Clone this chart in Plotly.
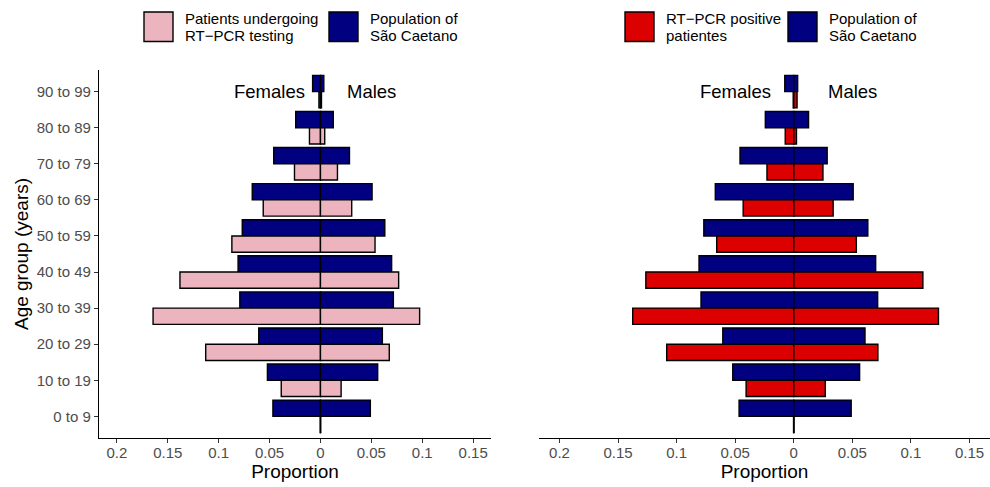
import plotly.graph_objects as go

# Age groups, bottom to top
age_groups = ["0 to 9", "10 to 19", "20 to 29", "30 to 39", "40 to 49",
              "50 to 59", "60 to 69", "70 to 79", "80 to 89", "90 to 99"]

# Population of São Caetano (proportion by sex)
pop_female = [0.0467, 0.0521, 0.0606, 0.0792, 0.0809, 0.0768, 0.0670, 0.0459, 0.0243, 0.0077]
pop_male = [0.0490, 0.0562, 0.0608, 0.0716, 0.0699, 0.0632, 0.0507, 0.0285, 0.0126, 0.0033]

# Patients undergoing RT-PCR testing
tested_female = [0.0002, 0.0385, 0.1127, 0.1644, 0.1380, 0.0870, 0.0562, 0.0255, 0.0108, 0.0015]
tested_male = [0.0002, 0.0203, 0.0676, 0.0974, 0.0768, 0.0536, 0.0307, 0.0167, 0.0042, 0.0010]

# RT-PCR positive patients
positive_female = [0.0002, 0.0407, 0.1085, 0.1375, 0.1263, 0.0658, 0.0432, 0.0229, 0.0073, 0.0005]
positive_male = [0.0002, 0.0269, 0.0718, 0.1235, 0.1102, 0.0534, 0.0336, 0.0249, 0.0023, 0.0028]

tick_vals = [-0.2, -0.15, -0.1, -0.05, 0, 0.05, 0.1, 0.15]
tick_text = ["0.2", "0.15", "0.1", "0.05", "0", "0.05", "0.1", "0.15"]

NAVY = "#000080"
PINK = "#EBB4BF"
RED = "#DC0000"
FONT = "Liberation Sans"
W, H = 990, 487
OUTLINE = 1.4

fig = go.Figure()


def add_panel(xa, ya, f_vals, m_vals, color):
    suffix_x = "x" if xa == 1 else f"x{xa}"
    suffix_y = "y" if ya == 1 else f"y{ya}"
    bars = [
        (pop_female, NAVY, 0.0, True),
        (pop_male, NAVY, 0.0, False),
        (f_vals, color, -0.45, True),
        (m_vals, color, -0.45, False),
    ]
    for vals, col, off, female in bars:
        xs = [-v for v in vals] if female else list(vals)
        fig.add_trace(go.Bar(
            x=xs, y=age_groups, orientation="h",
            xaxis=suffix_x, yaxis=suffix_y,
            width=0.45, offset=off,
            marker=dict(color=col, line=dict(color="black", width=OUTLINE)),
            showlegend=False,
        ))


add_panel(1, 1, tested_female, tested_male, PINK)
add_panel(2, 2, positive_female, positive_male, RED)

x_rng = [-0.2175, 0.1675]
y_dom = [1 - 438 / H, 1 - 70 / H]

common_x = dict(
    range=x_rng, tickvals=tick_vals, ticktext=tick_text,
    showline=True, linecolor="black", linewidth=1.2,
    ticks="outside", ticklen=4, tickcolor="#333333", tickwidth=1,
    ticklabelstandoff=-3,
    tickfont=dict(family=FONT, size=15, color="#4D4D4D"),
    showgrid=False, zeroline=False, automargin=False,
    title=dict(text="Proportion", font=dict(family=FONT, size=19, color="black"), standoff=4),
)

fig.update_layout(
    width=W, height=H,
    margin=dict(l=0, r=0, t=0, b=0),
    paper_bgcolor="white", plot_bgcolor="white",
    barmode="overlay",
    font=dict(family=FONT, color="black"),
    xaxis=dict(domain=[99 / W, 491 / W], anchor="y", **common_x),
    xaxis2=dict(domain=[539 / W, 1.0], anchor="y2", **common_x),
    yaxis=dict(
        domain=y_dom, anchor="x", type="category",
        categoryorder="array", categoryarray=age_groups,
        range=[-0.6, 9.6],
        showline=True, linecolor="black", linewidth=1.2,
        ticks="outside", ticklen=4, tickcolor="#333333", tickwidth=1,
        tickfont=dict(family=FONT, size=15, color="#4D4D4D"),
        showgrid=False, zeroline=False, automargin=False,
        title=dict(text="Age group (years)", font=dict(family=FONT, size=19, color="black"), standoff=3),
    ),
    yaxis2=dict(
        domain=y_dom, anchor="x2", type="category",
        categoryorder="array", categoryarray=age_groups,
        range=[-0.6, 9.6],
        showline=False, ticks="", showticklabels=False,
        showgrid=False, zeroline=False, automargin=False,
    ),
)

# Females / Males labels in each panel
for xr, yr in (("x", "y"), ("x2", "y2")):
    fig.add_annotation(x=-0.05, y="90 to 99", xref=xr, yref=yr, text="Females",
                       showarrow=False, font=dict(family=FONT, size=18.5, color="black"))
    fig.add_annotation(x=0.05, y="90 to 99", xref=xr, yref=yr, text="Males",
                       showarrow=False, font=dict(family=FONT, size=18.5, color="black"))

# Legend keys and labels above each panel
legend_items = [
    (144, PINK, ["Patients undergoing", "RT\u2212PCR testing"]),
    (329, NAVY, ["Population of", "São Caetano"]),
    (625, RED, ["RT\u2212PCR positive", "patientes"]),
    (788, NAVY, ["Population of", "São Caetano"]),
]
for x0, col, lines in legend_items:
    fig.add_shape(type="rect", xref="paper", yref="paper",
                  x0=x0 / W, x1=(x0 + 29) / W, y0=1 - 41.5 / H, y1=1 - 12 / H,
                  fillcolor=col, line=dict(color="black", width=OUTLINE))
    for i, line in enumerate(lines):
        fig.add_annotation(x=(x0 + 39) / W, y=1 - (19 + 16 * i) / H,
                           xref="paper", yref="paper", xanchor="left", yanchor="middle",
                           text=line, showarrow=False,
                           font=dict(family=FONT, size=15, color="black"))

fig.write_html("out.html")
